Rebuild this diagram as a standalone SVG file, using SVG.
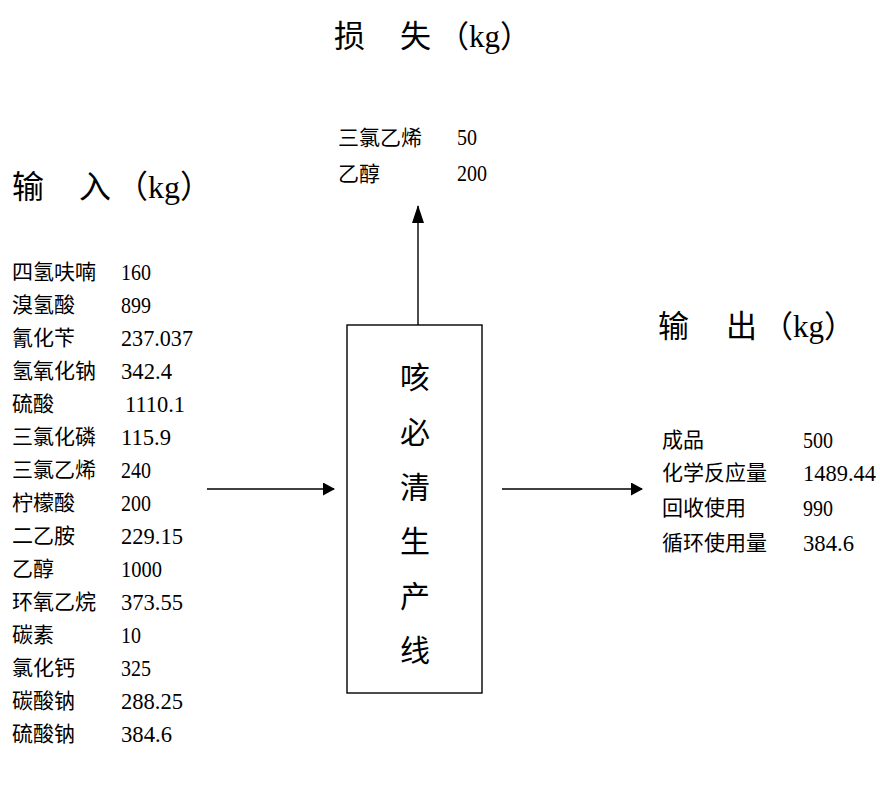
<svg xmlns="http://www.w3.org/2000/svg" width="880" height="791" viewBox="0 0 880 791">
<defs>
<marker id="arr" markerWidth="12" markerHeight="13" refX="11" refY="6.5" orient="auto" markerUnits="userSpaceOnUse">
<path d="M0,0 L12,6.5 L0,13 Z" fill="#000"/>
</marker>
<marker id="arrLong" markerWidth="18" markerHeight="12" refX="17" refY="6" orient="auto" markerUnits="userSpaceOnUse">
<path d="M0,0 L18,6 L0,12 Z" fill="#000"/>
</marker>
<style>
.t{font-family:"Liberation Serif","Noto Sans CJK SC",serif;fill:#000}
.h{font-size:31px}
.l{font-size:21px}
.n{font-family:"Liberation Serif",serif;font-size:24px;fill:#000}
.b{font-size:30px;text-anchor:middle}
.ln{stroke:#000;stroke-width:1.4;fill:none}
</style>
</defs>
<rect width="880" height="791" fill="#fff"/>
<g id="title-loss">
<text class="t h" y="47"><tspan x="334">损</tspan><tspan x="400">失</tspan><tspan x="438">（kg）</tspan></text>
</g>
<g id="loss-list">
<text class="t l" x="338" y="145">三氯乙烯</text><text class="n" x="457" y="145" textLength="20" lengthAdjust="spacingAndGlyphs">50</text>
<text class="t l" x="338" y="181">乙醇</text><text class="n" x="457" y="181" textLength="30" lengthAdjust="spacingAndGlyphs">200</text>
</g>
<g id="title-input">
<text class="t" style="font-size:32px" y="198"><tspan x="12">输</tspan><tspan x="79">入</tspan><tspan x="116">（kg）</tspan></text>
</g>
<g id="input-list">
<text class="t l" x="12" y="279">四氢呋喃</text><text class="n" x="121" y="280" textLength="30" lengthAdjust="spacingAndGlyphs">160</text>
<text class="t l" x="12" y="312">溴氢酸</text><text class="n" x="121" y="313" textLength="30" lengthAdjust="spacingAndGlyphs">899</text>
<text class="t l" x="12" y="345">氰化苄</text><text class="n" x="121" y="346" textLength="72" lengthAdjust="spacingAndGlyphs">237.037</text>
<text class="t l" x="12" y="378">氢氧化钠</text><text class="n" x="121" y="379" textLength="51" lengthAdjust="spacingAndGlyphs">342.4</text>
<text class="t l" x="12" y="411">硫酸</text><text class="n" x="125" y="412" textLength="60" lengthAdjust="spacingAndGlyphs">1110.1</text>
<text class="t l" x="12" y="444">三氯化磷</text><text class="n" x="121" y="445" textLength="50" lengthAdjust="spacingAndGlyphs">115.9</text>
<text class="t l" x="12" y="477">三氯乙烯</text><text class="n" x="121" y="478" textLength="30" lengthAdjust="spacingAndGlyphs">240</text>
<text class="t l" x="12" y="510">柠檬酸</text><text class="n" x="121" y="511" textLength="30" lengthAdjust="spacingAndGlyphs">200</text>
<text class="t l" x="12" y="543">二乙胺</text><text class="n" x="121" y="544" textLength="62" lengthAdjust="spacingAndGlyphs">229.15</text>
<text class="t l" x="12" y="576">乙醇</text><text class="n" x="121" y="577" textLength="41" lengthAdjust="spacingAndGlyphs">1000</text>
<text class="t l" x="12" y="609">环氧乙烷</text><text class="n" x="121" y="610" textLength="62" lengthAdjust="spacingAndGlyphs">373.55</text>
<text class="t l" x="12" y="642">碳素</text><text class="n" x="121" y="643" textLength="20" lengthAdjust="spacingAndGlyphs">10</text>
<text class="t l" x="12" y="675">氯化钙</text><text class="n" x="121" y="676" textLength="30" lengthAdjust="spacingAndGlyphs">325</text>
<text class="t l" x="12" y="708">碳酸钠</text><text class="n" x="121" y="709" textLength="62" lengthAdjust="spacingAndGlyphs">288.25</text>
<text class="t l" x="12" y="741">硫酸钠</text><text class="n" x="121" y="742" textLength="51" lengthAdjust="spacingAndGlyphs">384.6</text>
</g>
<g id="process">
<rect x="347" y="325" width="135" height="368" fill="#fff" stroke="#000" stroke-width="1.4"/>
<text class="t b" x="415" y="388">咳</text>
<text class="t b" x="415" y="443">必</text>
<text class="t b" x="415" y="498">清</text>
<text class="t b" x="415" y="552">生</text>
<text class="t b" x="415" y="607">产</text>
<text class="t b" x="415" y="661">线</text>
</g>
<g id="title-output">
<text class="t h" y="337"><tspan x="658">输</tspan><tspan x="726">出</tspan><tspan x="762">（kg）</tspan></text>
</g>
<g id="output-list">
<text class="t l" x="662" y="447">成品</text><text class="n" x="803" y="448" textLength="30" lengthAdjust="spacingAndGlyphs">500</text>
<text class="t l" x="662" y="480">化学反应量</text><text class="n" x="803" y="481" textLength="73" lengthAdjust="spacingAndGlyphs">1489.44</text>
<text class="t l" x="662" y="515">回收使用</text><text class="n" x="803" y="516" textLength="30" lengthAdjust="spacingAndGlyphs">990</text>
<text class="t l" x="662" y="550">循环使用量</text><text class="n" x="803" y="551" textLength="51" lengthAdjust="spacingAndGlyphs">384.6</text>
</g>
<g id="connectors">
<line class="ln" x1="207" y1="489" x2="334" y2="489" marker-end="url(#arr)"/>
<line class="ln" x1="502" y1="489" x2="642" y2="489" marker-end="url(#arr)"/>
<line class="ln" x1="418" y1="325" x2="418" y2="206" marker-end="url(#arrLong)"/>
</g>
</svg>
